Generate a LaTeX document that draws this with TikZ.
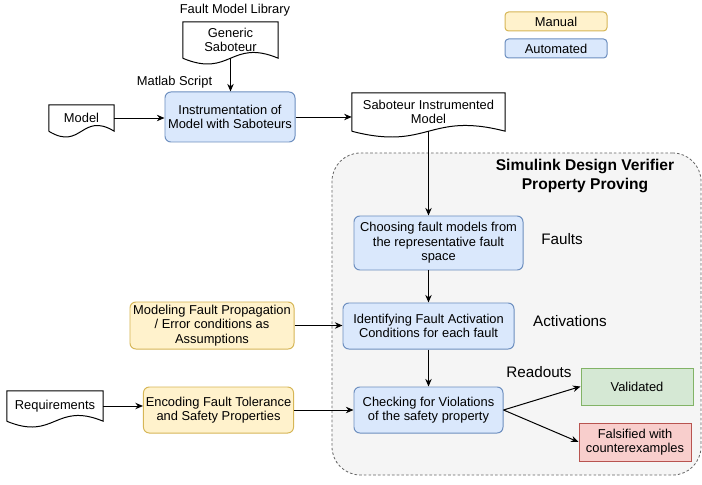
\documentclass[tikz,border=0pt]{standalone}
\usepackage{fontspec}
\setmainfont{Liberation Sans}
\usepackage{tikz}
\usetikzlibrary{arrows.meta,positioning,calc}
\definecolor{autofill}{HTML}{DAE8FC}
\definecolor{autoline}{HTML}{6C8EBF}
\definecolor{manfill}{HTML}{FFF2CC}
\definecolor{manline}{HTML}{D6B656}
\definecolor{okfill}{HTML}{D5E8D4}
\definecolor{okline}{HTML}{82B366}
\definecolor{failfill}{HTML}{F8CECC}
\definecolor{failline}{HTML}{B85450}
\definecolor{sdvfill}{HTML}{F5F5F5}
\definecolor{sdvline}{HTML}{666666}
\tikzset{
  autobox/.style={draw=autoline,fill=autofill,rounded corners=5pt,align=center,inner sep=2pt,line width=0.85pt},
  manbox/.style={draw=manline,fill=manfill,rounded corners=5pt,align=center,inner sep=2pt,line width=0.85pt},
  okbox/.style={draw=okline,fill=okfill,align=center,inner sep=2pt,line width=0.85pt},
  failbox/.style={draw=failline,fill=failfill,align=center,inner sep=2pt,line width=0.85pt},
  docbox/.style={draw=none,align=center,inner sep=2pt},
  docline/.style={line width=0.85pt,draw=black},
  sdvbox/.style={draw=sdvline,fill=sdvfill,dash pattern=on 2.2pt off 1.8pt,rounded corners=0.85cm,line width=0.7pt},
  biglabel/.style={font=\fontsize{13}{15}\selectfont},
  varr/.style={-{Stealth[length=6.5pt,width=5.5pt]},line width=0.85pt,draw=black}
}
% document shape: straight top and sides, wavy bottom
\newcommand{\docoutline}[1]{%
  \draw[docline] (#1.south west) -- (#1.north west) -- (#1.north east) -- (#1.south east)
    .. controls ($(#1.south)+(0,-20)$) and ($(#1.south)+(0,20)$) .. (#1.south west);}

\begin{document}
\begin{tikzpicture}[x=0.03cm,y=-0.03cm,font=\fontsize{11}{12.5}\selectfont]
  \useasboundingbox (0,0) rectangle (702,485);
  % verifier container
  \node[sdvbox,minimum width=11.07cm,minimum height=9.66cm] (sdv) at (516.5,314) {};
  \node[font=\bfseries\fontsize{13.3}{17}\selectfont,align=center] (sdvtitle) at (585,176)
    {Simulink Design Verifier\\Property Proving};
  % legend
  \node[manbox,rounded corners=3pt,minimum width=3.06cm,minimum height=0.57cm] (manual) at (556,21.5) {Manual};
  \node[autobox,rounded corners=3pt,minimum width=3.06cm,minimum height=0.57cm] (automated) at (556,48.5) {Automated};
  % inputs
  \node (fmlib) at (235,10) {Fault Model Library};
  \node[docbox,minimum width=2.85cm,minimum height=1.08cm] (gensab) at (230.5,40) {Generic\\Saboteur};
  \docoutline{gensab}
  \node (matlab) at (174.5,82) {Matlab Script};
  \node[docbox,minimum width=1.95cm,minimum height=0.78cm] (model) at (81.5,118) {Model};
  \docoutline{model}
  \node[autobox,minimum width=3.9cm,minimum height=1.5cm] (instr) at (230,117)
    {Instrumentation of\\Model with Saboteurs};
  \node[docbox,minimum width=4.59cm,minimum height=1.14cm] (sim) at (428.5,112)
    {Saboteur Instrumented\\Model};
  \docoutline{sim}
  \node[manbox,minimum width=4.92cm,minimum height=1.41cm] (modprop) at (212,325.5)
    {Modeling Fault Propagation\\/ Error conditions as\\Assumptions};
  \node[docbox,minimum width=2.88cm,minimum height=0.9cm] (req) at (55,406) {Requirements};
  \docoutline{req}
  \node[manbox,minimum width=4.47cm,minimum height=1.38cm] (encode) at (218.5,410)
    {Encoding Fault Tolerance\\and Safety Properties};
  % proving steps
  \node[autobox,minimum width=5.07cm,minimum height=1.62cm] (choose) at (438.5,243)
    {Choosing fault models from\\the representative fault\\space};
  \node[autobox,minimum width=5.13cm,minimum height=1.38cm] (ident) at (428.5,326)
    {Identifying Fault Activation\\Conditions for each fault};
  \node[autobox,minimum width=4.47cm,minimum height=1.38cm] (check) at (428.5,410)
    {Checking for Violations\\of the safety property};
  \node[biglabel] (faults) at (562,239) {Faults};
  \node[biglabel] (activ) at (570,321) {Activations};
  \node[biglabel] (readouts) at (539,372) {Readouts};
  \node[okbox,minimum width=3.36cm,minimum height=1.11cm] (valid) at (637,386.5) {Validated};
  \node[failbox,minimum width=3.36cm,minimum height=1.14cm] (falsif) at (635,442)
    {Falsified with\\counterexamples};
  % connectors
  \draw[varr] (gensab.south) -- (gensab.south |- instr.north);
  \draw[varr] (model.east) -- (model.east -| instr.west);
  \draw[varr] (instr.east) -- (instr.east -| sim.west);
  \draw[varr] (sim.south) -- (sim.south |- choose.north);
  \draw[varr] (sim.south |- choose.south) -- (ident.north);
  \draw[varr] (ident.south) -- (check.north);
  \draw[varr] (modprop.east) -- (modprop.east -| ident.west);
  \draw[varr] (req.east) -- (req.east -| encode.west);
  \draw[varr] (encode.east) -- (check.west);
  \draw[varr] (check.east) -- (valid.west);
  \draw[varr] (check.east) -- (falsif.west);
\end{tikzpicture}
\end{document}
